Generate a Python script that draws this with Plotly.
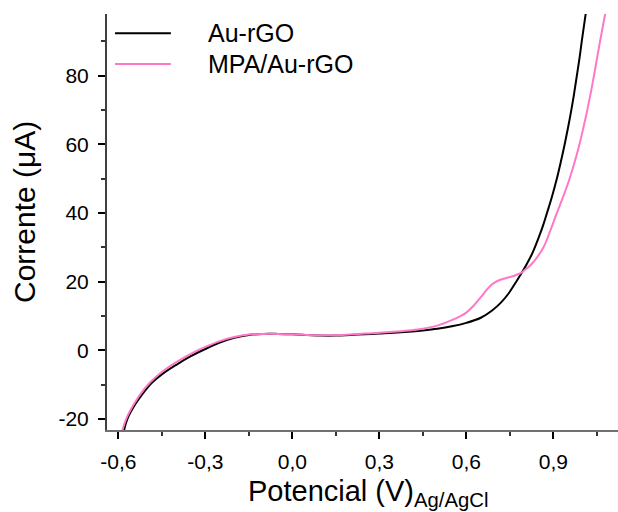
import plotly.graph_objects as go

# ---- data ----
potential_au = [-0.581, -0.569, -0.54, -0.515, -0.485, -0.45, -0.40, -0.35, -0.30, -0.25,
                -0.20, -0.15, -0.10, -0.05, 0.0, 0.05, 0.10, 0.15, 0.20, 0.25, 0.30,
                0.35, 0.40, 0.45, 0.50, 0.55, 0.60, 0.65, 0.69, 0.72, 0.745, 0.772,
                0.793, 0.81, 0.827, 0.85, 0.865, 0.878, 0.896, 0.912, 0.926, 0.939,
                0.951, 0.962, 0.972, 0.981, 0.990, 0.998, 1.014]
current_au = [-23.6, -20.0, -15.5, -12.5, -9.5, -7.0, -4.2, -1.7, 0.4, 2.3,
              3.7, 4.5, 4.8, 4.8, 4.7, 4.5, 4.3, 4.3, 4.5, 4.7, 4.9,
              5.1, 5.4, 5.8, 6.3, 7.0, 8.0, 9.5, 11.7, 14.0, 16.5, 20.0,
              22.9, 25.4, 28.2, 33.0, 36.5, 40.0, 45.0, 50.0, 55.0, 60.0,
              65.0, 70.0, 75.0, 80.0, 85.0, 90.0, 99.5]

potential_mpa = [-0.587, -0.573, -0.545, -0.52, -0.49, -0.45, -0.40, -0.35, -0.30, -0.25,
                 -0.20, -0.15, -0.10, -0.05, 0.0, 0.05, 0.10, 0.15, 0.20, 0.25, 0.30,
                 0.35, 0.40, 0.45, 0.50, 0.55, 0.58, 0.60, 0.625, 0.65, 0.67, 0.685,
                 0.70, 0.715, 0.735, 0.76, 0.785, 0.80, 0.827, 0.867, 0.89, 0.912,
                 0.935, 0.956, 0.974, 0.990, 1.004, 1.017, 1.029, 1.040, 1.061, 1.082]
current_mpa = [-23.6, -20.0, -15.5, -12.3, -9.3, -6.3, -3.4, -1.0, 1.0, 2.7,
               3.9, 4.6, 4.8, 4.8, 4.7, 4.5, 4.4, 4.4, 4.6, 4.9, 5.1,
               5.4, 5.8, 6.3, 7.2, 8.8, 10.0, 11.0, 13.0, 15.5, 17.6, 19.0,
               19.9, 20.5, 21.0, 21.6, 22.4, 23.3, 25.3, 30.2, 35.0, 40.0,
               45.0, 50.0, 55.0, 60.0, 65.0, 70.0, 75.0, 80.0, 90.0, 99.5]

series_names = ["Au-rGO", "MPA/Au-rGO"]
series_colors = ["#000000", "#FF78C8"]

x_tickvals = [-0.6, -0.3, 0.0, 0.3, 0.6, 0.9]
x_ticktext = ["-0,6", "-0,3", "0,0", "0,3", "0,6", "0,9"]
x_minor = [-0.45, -0.15, 0.15, 0.45, 0.75, 1.05]
y_tickvals = [-20, 0, 20, 40, 60, 80]
y_ticktext = ["-20", "0", "20", "40", "60", "80"]
y_minor = [-10, 10, 30, 50, 70, 90]

x_range = [-0.639, 1.123]
y_range = [-23.2, 98.0]

FONT = "Liberation Sans, Arial, sans-serif"

fig = go.Figure()
for xs, ys, name, col in [(potential_au, current_au, series_names[0], series_colors[0]),
                          (potential_mpa, current_mpa, series_names[1], series_colors[1])]:
    fig.add_trace(go.Scatter(x=xs, y=ys, mode="lines", name=name,
                             line=dict(color=col, width=2, shape="spline", smoothing=1.0),
                             showlegend=False))

fig.update_layout(
    width=618, height=512,
    margin=dict(l=107, r=0, t=14, b=82),
    paper_bgcolor="white", plot_bgcolor="white",
    font=dict(family=FONT, color="#000000"),
    xaxis=dict(range=x_range, showgrid=False, zeroline=False,
               showline=True, linecolor="#707070", linewidth=2,
               tickmode="array", tickvals=x_tickvals, ticktext=x_ticktext,
               ticks="outside", ticklen=7, tickwidth=1.5, tickcolor="#000000",
               tickfont=dict(size=21, family=FONT), ticklabelstandoff=5,
               minor=dict(tickvals=x_minor, ticks="outside", ticklen=4,
                          tickwidth=1.5, tickcolor="#333333", showgrid=False)),
    xaxis2=dict(range=x_range, overlaying="x", side="top", anchor="y",
                showgrid=False, zeroline=False, showline=True,
                linecolor="#808080", linewidth=2,
                tickmode="array", tickvals=x_tickvals + x_minor,
                ticks="inside", ticklen=3, tickwidth=1, tickcolor="#555555",
                showticklabels=False),
    yaxis=dict(range=y_range, showgrid=False, zeroline=False,
               showline=True, linecolor="#404040", linewidth=2,
               tickmode="array", tickvals=y_tickvals, ticktext=y_ticktext,
               ticks="outside", ticklen=7, tickwidth=1.5, tickcolor="#000000",
               tickfont=dict(size=21, family=FONT), ticklabelstandoff=5,
               minor=dict(tickvals=y_minor, ticks="outside", ticklen=4,
                          tickwidth=1.5, tickcolor="#333333", showgrid=False)),
)

# axis titles
fig.add_annotation(xref="paper", yref="paper", x=-0.1624, y=0.524,
                   text="Corrente (μA)", textangle=-90, showarrow=False,
                   xanchor="center", yanchor="middle",
                   font=dict(size=30, family=FONT, color="#000000"))
fig.add_annotation(xref="paper", yref="paper", x=0.511, y=-0.103,
                   text="Potencial (V)<sub>Ag/AgCl</sub>", showarrow=False,
                   xanchor="center", yanchor="top",
                   font=dict(size=29, family=FONT, color="#000000"))

# legend (drawn manually to match the reference layout)
legend_rows = [0.954, 0.880]
for name, col, yy in zip(series_names, series_colors, legend_rows):
    fig.add_shape(type="line", xref="paper", yref="paper",
                  x0=0.0157, x1=0.125, y0=yy, y1=yy,
                  line=dict(color=col, width=2))
    fig.add_annotation(xref="paper", yref="paper", x=0.1937, y=yy,
                       text=name, showarrow=False, xanchor="left", yanchor="middle",
                       font=dict(size=25, family=FONT, color="#000000"))

fig.write_html("out.html")
